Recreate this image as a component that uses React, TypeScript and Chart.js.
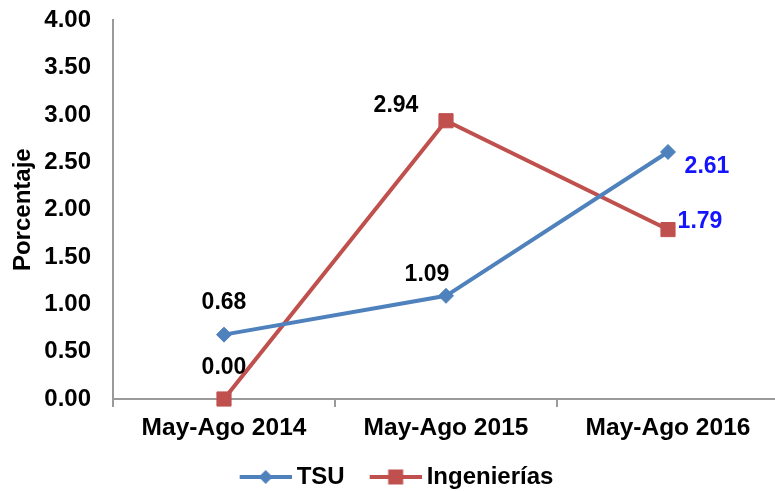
import React, { useEffect, useRef } from 'react';
import { Chart, registerables } from 'chart.js';

Chart.register(...registerables);

// ---- data ----
const categories = ['May-Ago 2014', 'May-Ago 2015', 'May-Ago 2016'];
const tsuValues = [0.68, 1.09, 2.61];
const ingValues = [0.0, 2.94, 1.79];
const seriesNames = ['TSU', 'Ingenierías'];
const yMin = 0;
const yMax = 4;
const yStep = 0.5;
const yTitle = 'Porcentaje';

// ---- styles ----
const FONT = '"Liberation Sans", Arial, sans-serif';
const BLUE = '#4F81BD';
const RED = '#C0504D';
const AXIS = '#9A9A9A';
const LABEL_OFFSETS = [
  [[0, -32], [-19, -21], [39, 15]],
  [[0, -31], [-50, -15], [32, -8]],
];
const LABEL_COLORS = [
  ['#000000', '#000000', '#1414FF'],
  ['#000000', '#000000', '#1414FF'],
];

function makeLegendIcon(color: string, shape: 'diamond' | 'square') {
  const c = document.createElement('canvas');
  c.width = 61;
  c.height = 18;
  const ctx = c.getContext('2d')!;
  const x0 = 9;
  const cx = x0 + 26;
  ctx.strokeStyle = color;
  ctx.lineWidth = 4;
  ctx.beginPath();
  ctx.moveTo(x0, 9);
  ctx.lineTo(x0 + 52, 9);
  ctx.stroke();
  ctx.fillStyle = color;
  ctx.beginPath();
  if (shape === 'diamond') {
    ctx.moveTo(cx, 2);
    ctx.lineTo(cx + 7, 9);
    ctx.lineTo(cx, 16);
    ctx.lineTo(cx - 7, 9);
    ctx.closePath();
  } else {
    ctx.rect(cx - 7.5, 1.5, 15, 15);
  }
  ctx.fill();
  return c;
}

const dataLabelPlugin = {
  id: 'dataLabels',
  afterDatasetsDraw(chart: any) {
    const ctx = chart.ctx;
    ctx.save();
    ctx.font = `bold 23px ${FONT}`;
    ctx.textAlign = 'center';
    ctx.textBaseline = 'middle';
    chart.data.datasets.forEach((ds: any, di: number) => {
      const meta = chart.getDatasetMeta(di);
      meta.data.forEach((pt: any, i: number) => {
        const v = ds.data[i];
        const [dx, dy] = LABEL_OFFSETS[di][i];
        ctx.fillStyle = LABEL_COLORS[di][i];
        ctx.fillText(Number(v).toFixed(2), pt.x + dx, pt.y + dy);
      });
    });
    ctx.restore();
  },
};

export default function App() {
  const ref = useRef<HTMLCanvasElement>(null);

  useEffect(() => {
    if (!ref.current) return;
    const icons = [makeLegendIcon(BLUE, 'diamond'), makeLegendIcon(RED, 'square')];
    const chart = new Chart(ref.current, {
      type: 'line',
      data: {
        labels: categories,
        datasets: [
          {
            label: seriesNames[0],
            data: tsuValues,
            borderColor: BLUE,
            backgroundColor: BLUE,
            borderWidth: 4,
            pointStyle: 'rectRot',
            pointRadius: 7.5,
            pointBorderWidth: 1,
            pointBackgroundColor: BLUE,
            pointBorderColor: BLUE,
            tension: 0,
            clip: false as any,
          },
          {
            label: seriesNames[1],
            data: ingValues,
            borderColor: RED,
            backgroundColor: RED,
            borderWidth: 4,
            pointStyle: 'rect',
            pointRadius: 10,
            pointBorderWidth: 1,
            pointBackgroundColor: RED,
            pointBorderColor: RED,
            tension: 0,
            clip: false as any,
          },
        ],
      },
      options: {
        responsive: false,
        animation: false,
        devicePixelRatio: 1,
        layout: { padding: { left: 9, right: 8, top: 20, bottom: -8 } },
        plugins: {
          tooltip: { enabled: false },
          legend: {
            position: 'bottom',
            labels: {
              usePointStyle: true,
              pointStyleWidth: 47,
              padding: 23,
              color: '#000000',
              font: { family: FONT, size: 24, weight: 'bold' },
              generateLabels: (ch: any) => {
                const items = Chart.defaults.plugins.legend.labels.generateLabels(ch);
                return items.map((it: any, i: number) => ({ ...it, pointStyle: icons[i] }));
              },
            },
          },
        },
        scales: {
          x: {
            type: 'category',
            offset: true,
            afterFit: (s: any) => {
              s.height = 43;
            },
            grid: {
              display: true,
              drawOnChartArea: false,
              drawTicks: true,
              tickLength: 8,
              lineWidth: 2,
              color: AXIS,
              offset: true,
            },
            border: { display: true, color: AXIS, width: 2 },
            ticks: {
              color: '#000000',
              padding: 7,
              maxRotation: 0,
              font: { family: FONT, size: 24.5, weight: 'bold' },
            },
          },
          y: {
            min: yMin,
            max: yMax,
            afterFit: (s: any) => {
              s.width = 104;
            },
            grid: {
              display: true,
              drawOnChartArea: false,
              drawTicks: true,
              tickLength: 16,
              color: 'rgba(0,0,0,0)',
            },
            border: { display: true, color: AXIS, width: 2 },
            ticks: {
              stepSize: yStep,
              padding: 6,
              color: '#000000',
              font: { family: FONT, size: 24, weight: 'bold' },
              callback: (v: any) => Number(v).toFixed(2),
            },
            title: {
              display: true,
              text: yTitle,
              color: '#000000',
              padding: { top: 2, bottom: 0 },
              font: { family: FONT, size: 24, weight: 'bold', lineHeight: 1 },
            },
          },
        },
      },
      plugins: [dataLabelPlugin],
    } as any);
    return () => chart.destroy();
  }, []);

  return (
    <div
      style={{
        position: 'fixed',
        left: 0,
        top: 0,
        width: 775,
        height: 491,
        overflow: 'hidden',
        background: '#ffffff',
      }}
    >
      <canvas ref={ref} width={790} height={491} style={{ display: 'block' }} />
    </div>
  );
}
